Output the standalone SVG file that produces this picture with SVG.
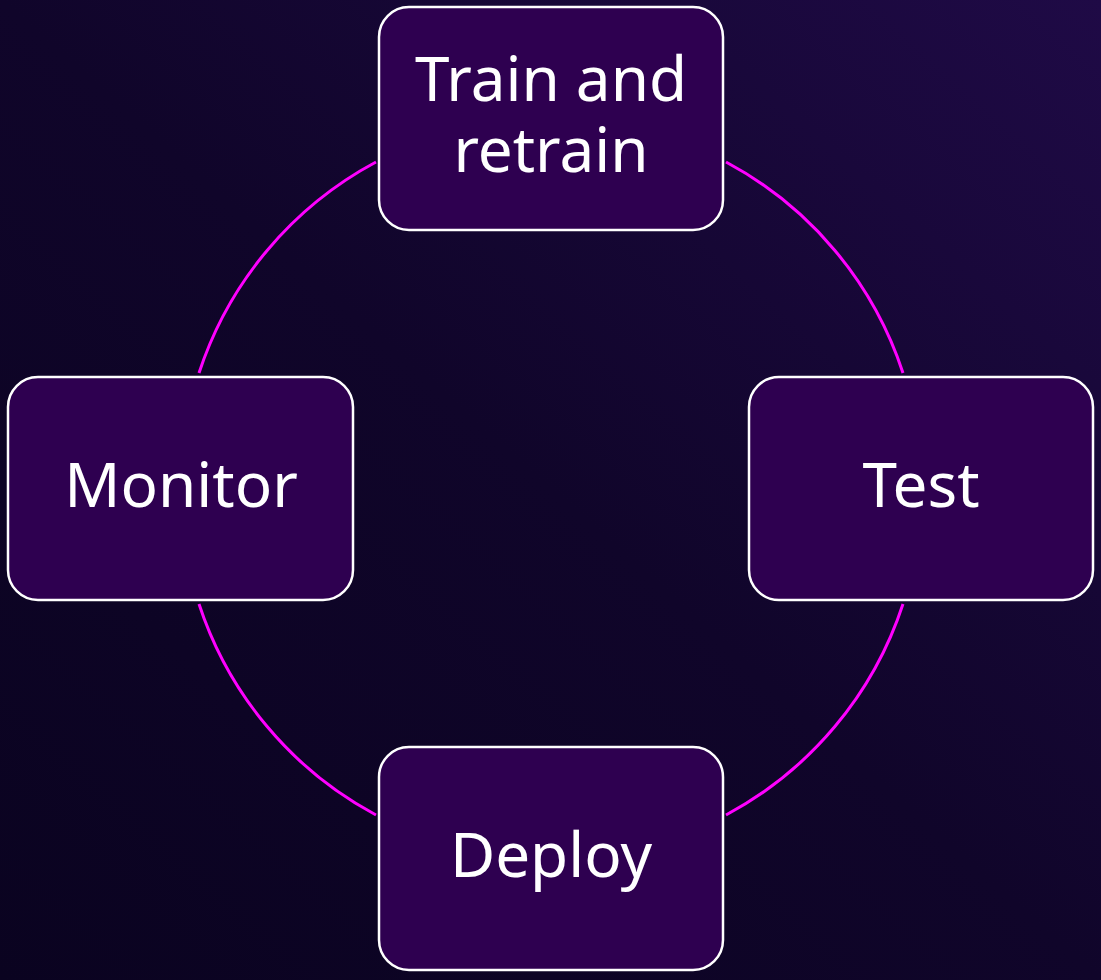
<svg xmlns="http://www.w3.org/2000/svg" width="1101" height="980" viewBox="0 0 1101 980">
<defs>
<linearGradient id="bg" x1="1" y1="0" x2="0" y2="1">
<stop offset="0" stop-color="#1f0a46"/>
<stop offset="0.5" stop-color="#10052a"/>
<stop offset="1" stop-color="#0a0320"/>
</linearGradient>
<style>
.box{fill:#2e0050;stroke:#ffffff;stroke-width:2.5}
.lbl{font-family:"Noto Sans","DejaVu Sans",sans-serif;font-size:62px;fill:#ffffff;text-anchor:middle}
.arc{fill:none;stroke:#ff00ff;stroke-width:3}
</style>
</defs>
<rect x="0" y="0" width="1101" height="980" fill="url(#bg)"/>
<g id="connectors">
<path class="arc" d="M376,162 A370,370 0 0 0 199,373"/>
<path class="arc" d="M726,162 A370,370 0 0 1 903,373"/>
<path class="arc" d="M903,604 A370,370 0 0 1 726,815"/>
<path class="arc" d="M199,604 A370,370 0 0 0 376,815"/>
</g>
<g id="train">
<rect class="box" x="379" y="7" width="344" height="223" rx="30"/>
<text class="lbl" x="551" y="101">Train and<tspan x="551" dy="71">retrain</tspan></text>
</g>
<g id="test">
<rect class="box" x="749" y="377" width="344" height="223" rx="30"/>
<text class="lbl" x="921" y="507">Test</text>
</g>
<g id="deploy">
<rect class="box" x="379" y="747" width="344" height="223" rx="30"/>
<text class="lbl" x="551" y="877">Deploy</text>
</g>
<g id="monitor">
<rect class="box" x="8" y="377" width="345" height="223" rx="30"/>
<text class="lbl" x="181" y="507">Monitor</text>
</g>
</svg>
